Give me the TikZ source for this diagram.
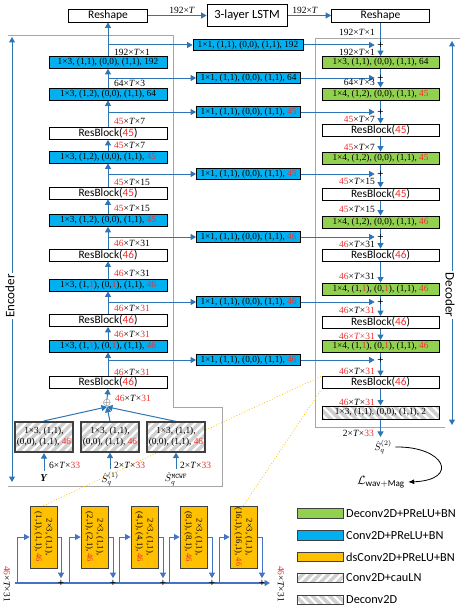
\documentclass[tikz,border=0pt]{standalone}
\usepackage{fontspec}
\setmainfont{Liberation Serif}
\setsansfont{Carlito}
\usetikzlibrary{arrows.meta,patterns.meta,calc}
\definecolor{cbl}{HTML}{00B0F0}
\definecolor{cgr}{HTML}{92D050}
\definecolor{cor}{HTML}{FFC000}
\definecolor{cred}{HTML}{F03030}
\definecolor{carr}{HTML}{2E75B6}
\definecolor{carl}{HTML}{4472C4}
\definecolor{cgry}{HTML}{A6A6A6}
\definecolor{chat}{HTML}{D0D0D0}
\definecolor{cdk}{HTML}{404040}
\newcommand\rd[1]{\textcolor{cred}{#1}}
\newcommand\tT{\textit{T}}
\pgfdeclarelayer{bg}
\pgfsetlayers{bg,main}
\tikzset{
  tipA/.style={-{Triangle[length=5.5pt,width=6pt]}},
  arr/.style={carr, line width=1pt, tipA},
  arrl/.style={carl, line width=1pt, tipA},
  bx/.style={draw=black, line width=0.8pt, inner sep=0pt, minimum height=12pt, font=\fontsize{9.3}{10}\selectfont},
  encb/.style={bx, minimum width=118pt},
  decb/.style={bx, minimum width=117pt},
  blu/.style={fill=cbl},
  grn/.style={fill=cgr},
  rb/.style={fill=white, font=\sffamily\fontsize{11.3}{12}\selectfont},
  midb/.style={bx, fill=cbl, minimum width=104pt, minimum height=11pt},
  rsh/.style={draw=black, line width=0.8pt, inner sep=0pt, minimum height=13pt, font=\sffamily\fontsize{11.5}{12}\selectfont},
  dim/.style={inner sep=0pt, font=\fontsize{9.5}{10}\selectfont},
  dimL/.style={dim, anchor=west},
  dimR/.style={dim, anchor=east},
  plusn/.style={font=\bfseries\fontsize{11}{11}\selectfont, inner sep=2.5pt},
  hatchA/.style={preaction={fill=chat}, pattern={Lines[angle=45,distance=6pt,line width=2.2pt]}, pattern color=white},
  hatchB/.style={preaction={fill=chat}, pattern={Lines[angle=-45,distance=6pt,line width=2.2pt]}, pattern color=white},
  inb/.style={draw=cdk, line width=1.2pt, hatchA, minimum width=58pt, minimum height=30pt, inner sep=1pt, align=center, font=\fontsize{9.3}{11}\selectfont},
  orb/.style={draw=cdk, line width=0.8pt, fill=cor, minimum width=27pt, minimum height=62pt, inner sep=0pt, font=\fontsize{8.6}{10.5}\selectfont},
  lgb/.style={draw=cdk, line width=0.8pt, minimum width=46pt, minimum height=9.5pt, inner sep=0pt},
  lgt/.style={anchor=west, inner sep=0pt, font=\sffamily\fontsize{12.3}{13}\selectfont},
  side/.style={fill=white, inner sep=1.5pt, font=\sffamily\fontsize{13}{14}\selectfont},
}
\begin{document}
\begin{tikzpicture}[x=1pt,y=-1pt]
\useasboundingbox (0,0) rectangle (463,610);

% ---------- top ----------
\node[rsh, minimum width=79pt] (RsL) at (108,15.5) {Reshape};
\node[rsh, minimum width=80pt, minimum height=22pt, font=\sffamily\fontsize{12.5}{13}\selectfont] (LSTM) at (247,15.5) {3-layer LSTM};
\node[rsh, minimum width=98pt] (RsR) at (380.5,15.5) {Reshape};
\node[dim, anchor=south] (tl1) at (182,13.5) {192×\tT};
\node[dim, anchor=south] (tl2) at (305,13.5) {192×\tT};

% ---------- encoder ----------
\node[encb, blu] (E1) at (108,62.5) {1×3, (1,1), (0,0), (1,1), 192};
\node[encb, blu] (E2) at (108,94) {1×3, (1,2), (0,0), (1,1), 64};
\node[encb, rb] (ER45a) at (108,133.5) {ResBlock(\rd{45})};
\node[encb, blu] (E45a) at (108,157) {1×3, (1,2), (0,0), (1,1), \rd{45}};
\node[encb, rb] (ER45b) at (108,193) {ResBlock(\rd{45})};
\node[encb, blu] (E45b) at (108,220.5) {1×3, (1,2), (0,0), (1,1), \rd{45}};
\node[encb, rb] (ER46a) at (108,255) {ResBlock(\rd{46})};
\node[encb, blu] (E46a) at (108,285) {1×3, (1,\rd{1}), (0,\rd{1}), (1,1), \rd{46}};
\node[encb, rb] (ER46b) at (108,320.5) {ResBlock(\rd{46})};
\node[encb, blu] (E46b) at (108,346) {1×3, (1,\rd{1}), (0,\rd{1}), (1,1), \rd{46}};
\node[encb, rb] (ER46c) at (108,382.5) {ResBlock(\rd{46})};
\node[inner sep=0.3pt, font=\fontsize{10}{10}\selectfont] (op) at (107,403) {$\oplus$};

\node[dimL] (el1) at (114,52) {192×\tT×1};
\node[dimL] (el2) at (114,83) {64×\tT×3};
\node[dimL] (el3) at (114,121) {\rd{45}×\tT×7};
\node[dimL] (el4) at (114,145) {\rd{45}×\tT×7};
\node[dimL] (el5) at (114,182) {\rd{45}×\tT×15};
\node[dimL] (el6) at (114,208) {\rd{45}×\tT×15};
\node[dimL] (el7) at (114,243) {\rd{46}×\tT×31};
\node[dimL] (el8) at (114,273) {\rd{46}×\tT×31};
\node[dimL] (el9) at (114,308) {\rd{46}×\tT×\rd{31}};
\node[dimL] (el10) at (114,334) {\rd{46}×\tT×\rd{31}};
\node[dimL] (el11) at (114,372) {\rd{46}×\tT×\rd{31}};
\node[dimL] (el12) at (115,398) {\rd{46}×\tT×\rd{31}};

% inputs
\node[inb] (in1) at (44,437) {1×3, (1,1),\\(0,0), (1,1), \rd{46}};
\node[inb] (in2) at (110,437) {1×3, (1,1),\\(0,0), (1,1), \rd{46}};
\node[inb] (in3) at (176,437) {1×3, (1,1),\\(0,0), (1,1), \rd{46}};
\node[font=\fontsize{10.5}{11}\selectfont] (Yn) at (44,478) {\textbf{\textit{Y}}};
\node[font=\fontsize{10}{11}\selectfont] (S1) at (110,479) {$\hat{S}_q^{(1)}$};
\node[font=\fontsize{10}{11}\selectfont] (SM) at (176,479) {$\hat{S}_q^{\mathtt{MCWF}}$};
\node[dimL] (il1) at (49,465) {6×\tT×\rd{33}};
\node[dimL] (il2) at (114,465) {2×\tT×\rd{33}};
\node[dimL] (il3) at (180,465) {2×\tT×\rd{33}};

% ---------- middle ----------
\node[midb, minimum width=110pt] (M1) at (248,45) {1×1, (1,1), (0,0), (1,1), 192};
\node[midb] (M2) at (248.5,78) {1×1, (1,1), (0,0), (1,1), 64};
\node[midb] (M3) at (248.5,112) {1×1, (1,1), (0,0), (1,1), \rd{45}};
\node[midb] (M4) at (248.5,174) {1×1, (1,1), (0,0), (1,1), \rd{45}};
\node[midb] (M5) at (248.5,237) {1×1, (1,1), (0,0), (1,1), \rd{46}};
\node[midb] (M6) at (248.5,302) {1×1, (1,1), (0,0), (1,1), \rd{46}};
\node[midb] (M7) at (248.5,360) {1×1, (1,1), (0,0), (1,1), \rd{46}};

% ---------- decoder ----------
\node[decb, grn] (D1) at (380.5,62.5) {1×3, (1,1), (0,0), (1,1), 64};
\node[decb, grn] (D2) at (380.5,94) {1×4, (1,2), (0,0), (1,1), \rd{45}};
\node[decb, rb] (DR45a) at (380.5,130) {ResBlock(\rd{45})};
\node[decb, grn] (D45a) at (380.5,158) {1×4, (1,2), (0,0), (1,1), \rd{45}};
\node[decb, rb] (DR45b) at (380.5,194) {ResBlock(\rd{45})};
\node[decb, grn] (D46a) at (380.5,222) {1×4, (1,2), (0,0), (1,1), \rd{46}};
\node[decb, rb] (DR46a) at (380.5,255) {ResBlock(\rd{46})};
\node[decb, grn] (D46b) at (380.5,289) {1×4, (1,\rd{1}), (0,\rd{1}), (1,1), \rd{46}};
\node[decb, rb] (DR46b) at (380.5,322.5) {ResBlock(\rd{46})};
\node[decb, grn] (D46c) at (380.5,346.5) {1×4, (1,\rd{1}), (0,\rd{1}), (1,1), \rd{46}};
\node[decb, rb] (DR46c) at (380.5,382.5) {ResBlock(\rd{46})};
\node[decb, hatchB, minimum height=13pt, line width=1pt] (DF) at (380.5,412.5) {1×3, (1,1), (0,0), (1,1), 2};

\foreach \i/\y in {1/45,2/78,3/112,4/174,5/237,6/302,7/360}{
  \node[plusn] (P\i) at (380.5,\y) {+};
  \coordinate (B\i) at (108,\y);
}

\node[dimR] (dl0) at (375,32) {192×\tT×1};
\node[dimR] (dl1) at (375,52) {192×\tT×1};
\node[dimR] (dl2) at (375,82) {64×\tT×3};
\node[dimR] (dl3) at (375,119) {\rd{45}×\tT×7};
\node[dimR] (dl4) at (375,147) {\rd{45}×\tT×7};
\node[dimR] (dl5) at (375,181) {\rd{45}×\tT×15};
\node[dimR] (dl6) at (375,209) {\rd{45}×\tT×15};
\node[dimR] (dl7) at (375,244) {\rd{46}×\tT×31};
\node[dimR] (dl8) at (375,276) {\rd{46}×\tT×31};
\node[dimR] (dl9) at (375,310) {\rd{46}×\tT×\rd{31}};
\node[dimR] (dl10) at (375,336) {\rd{46×\tT×31}};
\node[dimR] (dl11) at (375,371) {\rd{46}×\tT×\rd{31}};
\node[dimR] (dl12) at (375,402) {\rd{46}×\tT×\rd{31}};
\node[dimR] (dl13) at (374,433) {2×\tT×\rd{33}};

\node[font=\fontsize{10}{11}\selectfont] (S2) at (383,447) {$\hat{S}_q^{(2)}$};
\node[font=\fontsize{13}{14}\selectfont] (Lw) at (381,482) {$\mathcal{L}_{\mathsf{wav{+}Mag}}$};

% side labels
\coordinate (eT) at (12,37);
\coordinate (eB) at (12,482);
\coordinate (dT) at (452,41);
\coordinate (dB) at (452,425);
\node[side, rotate=90] (encL) at (10,296) {Encoder};
\node[side, rotate=-90] (decL) at (450,295) {Decoder};

% ---------- bottom block ----------
\foreach \i/\x/\a/\b in {1/43.5/1/1, 2/94.5/2/2, 3/144.5/4/4, 4/193.5/8/8, 5/243.5/16/16}{
  \node[orb] (O\i) at (\x,537) {\rotatebox[origin=c]{-90}{\begin{tabular}{@{}c@{}}2×3, (1,1),\\(\a,1), (\b,1), \rd{46}\end{tabular}}};
}
\foreach \i/\xl/\xr in {1/17/61, 2/69/113, 3/119/163, 4/169/212, 5/219/262}{
  \coordinate (R\i) at (\xl,583);
  \node[plusn, inner sep=1.5pt] (Q\i) at (\xr,583) {+};
}
\coordinate (mS) at (15,583);
\coordinate (mE) at (270,583);
\node[dim, rotate=-90] (bl1) at (7,584) {\rd{46}×\tT×31};
\node[dim, rotate=-90] (bl2) at (281,584) {\rd{46}×\tT×31};

% ---------- legend ----------
\node[lgb, fill=cgr] (LG1) at (320,513.5) {};
\node[lgb, fill=cbl] (LG2) at (320,535.5) {};
\node[lgb, fill=cor] (LG3) at (320,557) {};
\node[lgb, hatchA] (LG4) at (320,578) {};
\node[lgb, hatchB] (LG5) at (320,600) {};
\node[lgt] (LT1) at (346,513.5) {Deconv2D+PReLU+BN};
\node[lgt] (LT2) at (346,535.5) {Conv2D+PReLU+BN};
\node[lgt] (LT3) at (346,557) {dsConv2D+PReLU+BN};
\node[lgt] (LT4) at (346,578) {Conv2D+cauLN};
\node[lgt] (LT5) at (346,600) {Deconv2D};

% ---------- connectors ----------
\begin{pgfonlayer}{bg}
\draw[cgry, line width=0.8pt] (8,35) -- (173,35) -- (173,407) -- (222,407) -- (222,486) -- (8,486);
\draw[cgry, line width=0.8pt] (460,38) -- (315,38) -- (315,427) -- (445,427);

\draw[carr, line width=1pt, {Triangle[length=5.5pt,width=6pt]}-{Triangle[length=5.5pt,width=6pt]}] (eT) -- (eB);
\draw[carr, line width=1pt, {Triangle[length=5.5pt,width=6pt]}-{Triangle[length=5.5pt,width=6pt]}] (dT) -- (dB);

\draw[arr] (RsL) -- (LSTM);
\draw[arr] (LSTM) -- (RsR);

\foreach \a/\b in {op/ER46c, ER46c/E46b, E46b/ER46b, ER46b/E46a, E46a/ER46a, ER46a/E45b, E45b/ER45b, ER45b/E45a, E45a/ER45a, ER45a/E2, E2/E1, E1/RsL}
  \draw[arr] (\a.north) -- (\b.south);
\foreach \a/\b in {RsR/D1, D1/D2, D2/DR45a, DR45a/D45a, D45a/DR45b, DR45b/D46a, D46a/DR46a, DR46a/D46b, D46b/DR46b, DR46b/D46c, D46c/DR46c, DR46c/DF}
  \draw[arr] (\a.south) -- (\b.north);
\draw[arr] (DF.south) -- (DF.south |- S2.north);

\foreach \i in {1,...,7}{
  \draw[arr] (B\i) -- (M\i);
  \draw[arr] (M\i) -- (P\i);
}

\draw[arr] (in1.north) -- (op.south);
\draw[arr] (in2.north) -- (op.south);
\draw[arr] (in3.north) -- (op.south);
\draw[arr] (Yn.north) -- (in1.south);
\draw[arr] (S1.north) -- (in2.south);
\draw[arr] (SM.north) -- (in3.south);

\draw[line width=0.8pt, -{Latex[length=6pt,width=5pt]}] (S2.east) .. controls (445,446) and (460,480) .. (Lw.east);

\draw[carl, line width=1.3pt, tipA] (mS) -- (mE);
\foreach \i in {1,...,5}{
  \draw[arrl, line width=0.8pt] (R\i) |- (O\i.west);
  \draw[arrl, line width=0.8pt] (O\i.east) -| (Q\i.north);
}

\draw[cor, dotted, line width=0.8pt] (O1.north) -- (DR46c.north west);
\draw[cor, dotted, line width=0.8pt] (O5.north) -- (DR46c.south west);
\end{pgfonlayer}
\end{tikzpicture}
\end{document}
